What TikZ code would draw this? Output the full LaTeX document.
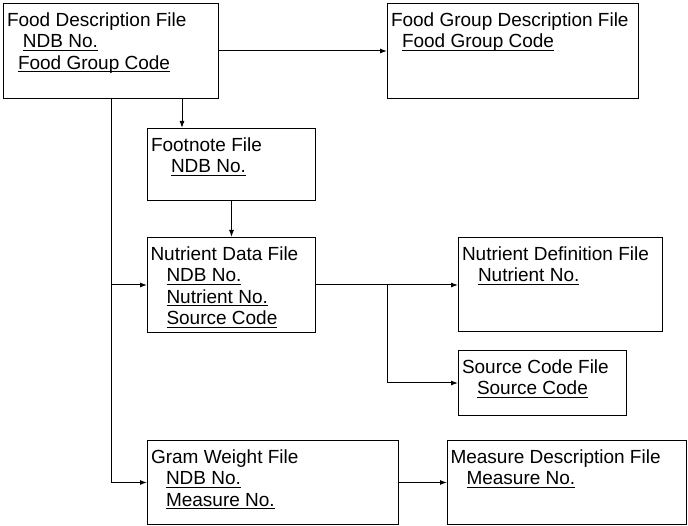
\documentclass[tikz,border=0pt]{standalone}
\usepackage{fontspec}
\setmainfont{Liberation Sans}
\usetikzlibrary{arrows.meta}
% underlined key field, indented
\newcommand{\keyfld}[2][16pt]{\hspace*{#1}\setbox0\hbox{#2}\rlap{\rule[-3pt]{\wd0}{1pt}}\box0}

\begin{document}
\begin{tikzpicture}[
        x=1pt, y=-1pt,
        filebox/.style={draw, line width=1pt, anchor=north west, inner sep=0pt},
        filetext/.style={anchor=north west, inner sep=0pt, align=left,
                         font=\fontsize{19}{21.5}\selectfont},
        >={Latex[length=7pt,width=5pt]}, line width=1pt
      ]
      \useasboundingbox (0,0) rectangle (688,526);
      % boxes
      \node[filebox, minimum width=215pt, minimum height=95pt] (fooddesc)  at (3,3)     {};
      \node[filebox, minimum width=251pt, minimum height=95pt] (foodgroup) at (387,3)   {};
      \node[filebox, minimum width=168pt, minimum height=72pt] (footnote)  at (147,128) {};
      \node[filebox, minimum width=168pt, minimum height=95pt] (nutdata)   at (147,237) {};
      \node[filebox, minimum width=204pt, minimum height=94pt] (nutdef)    at (458,237) {};
      \node[filebox, minimum width=168pt, minimum height=65pt] (srccode)   at (458,350) {};
      \node[filebox, minimum width=251pt, minimum height=84pt] (gramwt)    at (147,440) {};
      \node[filebox, minimum width=239pt, minimum height=84pt] (measdesc)  at (447,440) {};
      % texts
      \node[filetext] (fooddesc-t) at ([shift={(3.5,9)}]fooddesc.north west)
           {Food Description File \\ \keyfld{NDB No.} \\ \keyfld[11pt]{Food Group Code}};
      \node[filetext] (foodgroup-t) at ([shift={(3.5,9)}]foodgroup.north west)
           {Food Group Description File \\ \keyfld[11pt]{Food Group Code}};
      \node[filetext] (footnote-t) at ([shift={(3.5,9)}]footnote.north west)
           {Footnote File \\ \keyfld[20pt]{NDB No.}};
      \node[filetext] (nutdata-t) at ([shift={(3,9)}]nutdata.north west)
           {Nutrient Data File \\ \keyfld{NDB No.} \\ \keyfld{Nutrient No.} \\ \keyfld{Source Code}};
      \node[filetext] (nutdef-t) at ([shift={(3.5,9)}]nutdef.north west)
           {Nutrient Definition File \\ \keyfld{Nutrient No.}};
      \node[filetext] (srccode-t) at ([shift={(3.5,9)}]srccode.north west)
           {Source Code File \\ \keyfld[15pt]{Source Code}};
      \node[filetext] (gramwt-t) at ([shift={(3.5,9)}]gramwt.north west)
           {Gram Weight File \\ \keyfld[15pt]{NDB No.} \\ \keyfld[15pt]{Measure No.}};
      \node[filetext] (measdesc-t) at ([shift={(3,9)}]measdesc.north west)
           {Measure Description File \\ \keyfld{Measure No.}};
      % arrows
      \draw[->] (fooddesc) -- (foodgroup);
      \draw[->] ([xshift=35pt]footnote.north west |- fooddesc.south) -- ([xshift=35pt]footnote.north west);
      \draw[->] (footnote) -- (nutdata);
      \draw[->] (fooddesc.south) |- (nutdata.west);
      \draw[->] (fooddesc.south) |- (gramwt.west);
      \draw[->] (nutdata.east) -- (nutdef.west |- nutdata.east);
      \coordinate (split) at (387,284.5);
      \draw[->] (split) |- (srccode.west);
      \draw[->] (gramwt) -- (measdesc);
    \end{tikzpicture}
\end{document}
